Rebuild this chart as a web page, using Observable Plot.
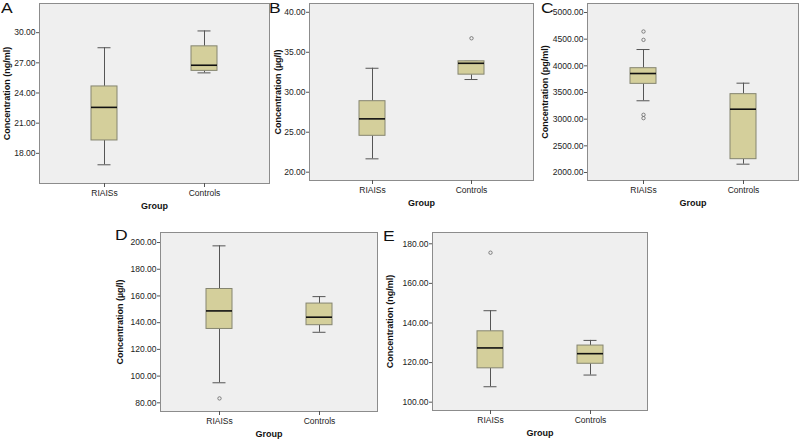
<!DOCTYPE html>
<html>
<head>
<meta charset="utf-8">
<script src="https://cdn.jsdelivr.net/npm/d3@7"></script>
<script src="https://cdn.jsdelivr.net/npm/@observablehq/plot@0.6"></script>
<style>
  html, body { margin: 0; padding: 0; background: #fff; }
  #wrap { position: relative; width: 800px; height: 442px; overflow: hidden; font-family: "Liberation Sans", Arial, sans-serif; }
  .panel { position: absolute; }
  .plab { position: absolute; font-size: 14px; line-height: 14px; color: #111; font-family: "Liberation Sans", Arial, sans-serif; transform: scaleX(1.25); transform-origin: left top; }
</style>
</head>
<body>
<div id="wrap"></div>
<script>
// ---- data ----
const groups = ["RIAISs", "Controls"];
const panelNames = ["A", "B", "C", "D", "E"];
const yLabels = ["Concentration (ng/ml)", "Concentration (µg/l)", "Concentration (pg/ml)", "Concentration (µg/l)", "Concentration (ng/ml)"];
const xLabel = "Group";

// five-number summaries per group: [low whisker, Q1, median, Q3, high whisker]
const statsA = [[16.86, 19.28, 22.57, 24.65, 28.5], [26.0, 26.2, 26.76, 28.64, 30.17]];
const statsB = [[21.67, 24.55, 26.67, 28.88, 33.0], [31.59, 32.2, 33.62, 33.87, 33.87]];
const statsC = [[3345, 3662, 3856, 3956, 4306], [2156, 2250, 3187, 3469, 3675]];
const statsD = [[95.0, 135.3, 148.8, 165.2, 197.5], [132.8, 138.1, 144.1, 154.3, 159.5]];
const statsE = [[107.8, 117.1, 127.4, 135.8, 146.2], [113.7, 119.4, 124.5, 128.6, 131.2]];

// outliers per group
const outA = [[], []];
const outB = [[], [36.75]];
const outC = [[4644, 4487, 3082, 3019], []];
const outD = [[83.3], []];
const outE = [[175.5], []];

// y tick labels
const ticksA = [18, 21, 24, 27, 30];
const ticksB = [20, 25, 30, 35, 40];
const ticksC = [2000, 2500, 3000, 3500, 4000, 4500, 5000];
const ticksD = [80, 100, 120, 140, 160, 180, 200];
const ticksE = [100, 120, 140, 160, 180];

// y domains (SPSS axis extents)
const domA = [15.0, 32.9];
const domB = [18.96, 41.1];
const domC = [1850, 5169];
const domD = [73.5, 207.5];
const domE = [95.8, 185.7];

// ---- layout ----
const layouts = [
  {left: 0,   top: 0,   width: 272, height: 215, mL: 39, mT: 3,  mR: 3, mB: 32, lab: [1, 1],     yOff: 36, boxW: 26},
  {left: 266, top: 0,   width: 270, height: 215, mL: 43, mT: 3,  mR: 3, mB: 35, lab: [269, 0.5], yOff: 35, boxW: 26},
  {left: 532, top: 0,   width: 268, height: 215, mL: 55, mT: 3,  mR: 2, mB: 35, lab: [540.5, 1], yOff: 46, boxW: 26},
  {left: 110, top: 215, width: 270, height: 227, mL: 50, mT: 17, mR: 3, mB: 31, lab: [115, 228], yOff: 44, boxW: 26},
  {left: 385, top: 215, width: 265, height: 227, mL: 47, mT: 17, mR: 3, mB: 32, lab: [383, 229], yOff: 46, boxW: 26}
];

const allStats = [statsA, statsB, statsC, statsD, statsE];
const allOut = [outA, outB, outC, outD, outE];
const allTicks = [ticksA, ticksB, ticksC, ticksD, ticksE];
const allDom = [domA, domB, domC, domD, domE];

const wrap = document.getElementById("wrap");

panelNames.forEach((name, p) => {
  const L = layouts[p];
  const rows = groups.map((g, i) => {
    const s = allStats[p][i];
    return {group: g, lo: s[0], q1: s[1], med: s[2], q3: s[3], hi: s[4]};
  });
  const outs = [];
  groups.forEach((g, i) => allOut[p][i].forEach(v => outs.push({group: g, v})));

  const frameW = L.width - L.mL - L.mR;
  // band scale: box width ~26px, centres ~100px apart
  const step = 100;
  const pi = 1 - L.boxW / step;
  const po = ((frameW / step) - 2 + pi) / 2;

  const chart = Plot.plot({
    width: L.width,
    height: L.height,
    marginLeft: L.mL,
    marginTop: L.mT,
    marginRight: L.mR,
    marginBottom: L.mB,
    style: {fontFamily: "'Liberation Sans', Arial, sans-serif", fontSize: "8.5px", color: "#222", background: "transparent"},
    x: {domain: groups, paddingInner: pi, paddingOuter: po},
    y: {domain: allDom[p]},
    marks: [
      Plot.frame({fill: "#efefef", stroke: null}),
      Plot.ruleX(rows, {x: "group", y1: "lo", y2: "q1", stroke: "#555", strokeWidth: 1}),
      Plot.ruleX(rows, {x: "group", y1: "q3", y2: "hi", stroke: "#555", strokeWidth: 1}),
      Plot.tickY(rows, {x: "group", y: "lo", stroke: "#555", strokeWidth: 1, insetLeft: 6.5, insetRight: 6.5}),
      Plot.tickY(rows, {x: "group", y: "hi", stroke: "#555", strokeWidth: 1, insetLeft: 6.5, insetRight: 6.5}),
      Plot.barY(rows, {x: "group", y1: "q1", y2: "q3", fill: "#d4cf9b", stroke: "#858570", strokeWidth: 1}),
      Plot.tickY(rows, {x: "group", y: "med", stroke: "#111", strokeWidth: 1.6}),
      Plot.dot(outs, {x: "group", y: "v", r: 1.7, stroke: "#666", strokeWidth: 0.8, fill: "none"}),
      Plot.frame({stroke: "#8c8c8c", strokeWidth: 1}),
      Plot.axisY({
        ticks: allTicks[p], tickFormat: d3.format(".2f"), tickSize: 3, tickPadding: 1,
        stroke: "#555", fill: "#222", fontSize: 8.5,
        label: yLabels[p], labelAnchor: "center", labelArrow: "none", labelOffset: L.yOff
      }),
      Plot.axisX({
        tickSize: 4, tickPadding: 2, stroke: "#555", fill: "#222", fontSize: 8.5,
        label: xLabel, labelAnchor: "center", labelArrow: "none", labelOffset: 25
      })
    ]
  });
  chart.classList.add("panel");
  chart.style.left = L.left + "px";
  chart.style.top = L.top + "px";
  // bold axis titles
  chart.querySelectorAll("[aria-label='y-axis label'] text, [aria-label='x-axis label'] text").forEach(t => {
    t.setAttribute("font-weight", "bold");
    t.setAttribute("font-size", "9");
    t.setAttribute("fill", "#111");
  });
  wrap.appendChild(chart);

  const lab = document.createElement("div");
  lab.className = "plab";
  lab.textContent = name;
  lab.style.left = L.lab[0] + "px";
  lab.style.top = L.lab[1] + "px";
  wrap.appendChild(lab);
});
</script>
</body>
</html>
